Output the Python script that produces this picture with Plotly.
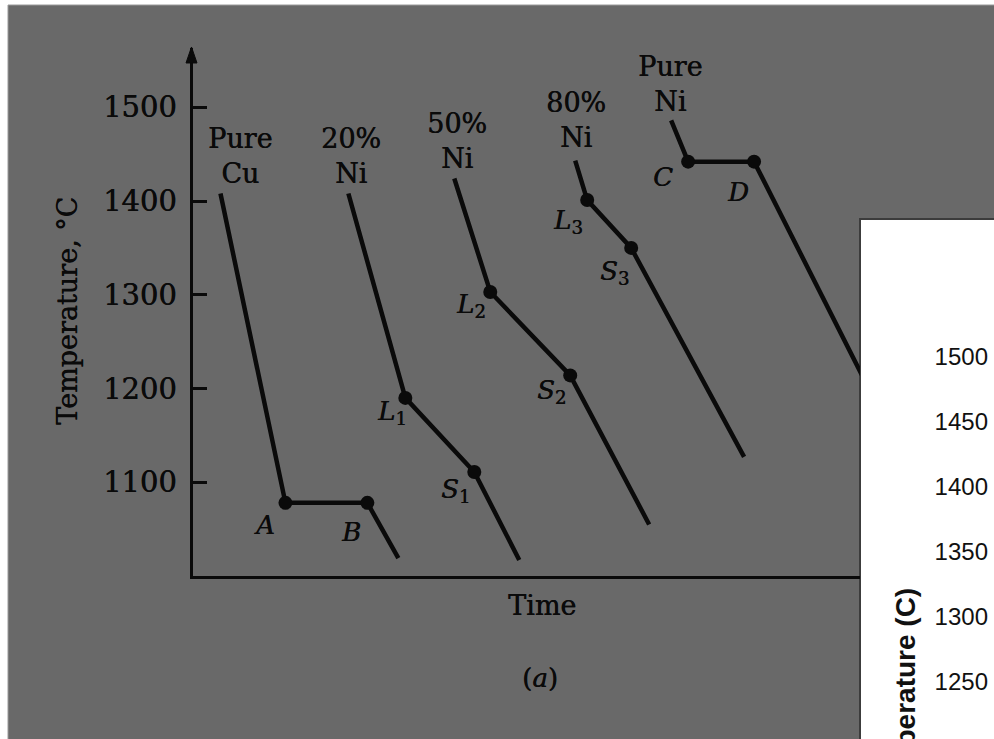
import plotly.graph_objects as go

# ---------------- data (time in arbitrary units, temperature in deg C) ----------------
curve_labels = ["Pure<br>Cu", "20%<br>Ni", "50%<br>Ni", "80%<br>Ni", "Pure<br>Ni"]

time_pure_cu = [2.8, 9.3, 17.5, 20.6]
temp_pure_cu = [1408, 1078, 1078, 1019]

time_ni20 = [15.6, 21.3, 28.2, 32.7]
temp_ni20 = [1408, 1190, 1111, 1017]

time_ni50 = [26.2, 29.8, 37.8, 45.7]
temp_ni50 = [1424, 1303, 1214, 1055]

time_ni80 = [38.3, 39.5, 43.9, 55.2]
temp_ni80 = [1443, 1401, 1350, 1127]

time_pure_ni = [47.9, 49.6, 56.2, 70.9]
temp_pure_ni = [1486, 1442, 1442, 1132]

point_names = [["A", "B"], ["L1", "S1"], ["L2", "S2"], ["L3", "S3"], ["C", "D"]]

main_ticks = [1100, 1200, 1300, 1400, 1500]
inset_ticks = [1250, 1300, 1350, 1400, 1450, 1500]

# ---------------- layout helpers ----------------
W, H = 994, 739
BG = "#696969"
INK = "#0a0a0a"
SERIF = "DejaVu Serif"
HEAVY = "0.5px 0px 0px #0a0a0a"

series = [
    (time_pure_cu, temp_pure_cu),
    (time_ni20, temp_ni20),
    (time_ni50, temp_ni50),
    (time_ni80, temp_ni80),
    (time_pure_ni, temp_pure_ni),
]

# pixel offsets of labels relative to their anchor points (x right, y up)
name_offsets = [[(-21, -22), (-16, -29)],
                [(-13, -15), (-19, -19)],
                [(-19, -14), (-19, -16)],
                [(-19, -21), (-17, -25)],
                [(-25, -15), (-16, -30)]]
curve_label_offsets = [(20, 38), (3, 38), (3, 38), (1, 41), (-1, 36)]

def px(x):
    return x / W

def py(y):
    return 1 - y / H

def serif(size):
    return dict(family=SERIF, size=size, color=INK, shadow=HEAVY)

fig = go.Figure()

for (tt, TT) in series:
    fig.add_trace(go.Scatter(x=tt, y=TT, mode="lines",
                             line=dict(color=INK, width=4.5),
                             showlegend=False, hoverinfo="skip"))
    fig.add_trace(go.Scatter(x=tt[1:3], y=TT[1:3], mode="markers",
                             marker=dict(color=INK, size=14),
                             showlegend=False, hoverinfo="skip"))

# empty trace so the inset subplot is created
fig.add_trace(go.Scatter(x=[None], y=[None], xaxis="x2", yaxis="y2",
                         showlegend=False, hoverinfo="skip"))

annotations = []
for i, (tt, TT) in enumerate(series):
    dx, dy = curve_label_offsets[i]
    annotations.append(dict(x=tt[0], y=TT[0], xref="x", yref="y",
                            text=curve_labels[i], showarrow=False,
                            xanchor="center", yanchor="middle",
                            xshift=dx, yshift=dy, align="center",
                            font=serif(27)))
    for j in range(2):
        name = point_names[i][j]
        txt = "<i>%s</i>" % name[0]
        if len(name) > 1:
            txt += "<sub>%s</sub>" % name[1:]
        ox, oy = name_offsets[i][j]
        annotations.append(dict(x=tt[1 + j], y=TT[1 + j], xref="x", yref="y",
                                text=txt, showarrow=False,
                                xanchor="center", yanchor="middle",
                                xshift=ox, yshift=oy,
                                font=serif(26)))

annotations += [
    dict(x=px(67), y=py(311), xref="paper", yref="paper",
         xanchor="center", yanchor="middle",
         text="Temperature, °C", textangle=-90, showarrow=False,
         font=serif(27)),
    dict(x=px(542), y=py(605), xref="paper", yref="paper",
         xanchor="center", yanchor="middle",
         text="Time", showarrow=False,
         font=serif(27)),
    dict(x=px(540), y=py(678), xref="paper", yref="paper",
         xanchor="center", yanchor="middle",
         text="(<i>a</i>)", showarrow=False,
         font=serif(26)),
    dict(x=px(905), y=py(586), xref="paper", yref="paper",
         xanchor="center", yanchor="top",
         text="<b>Temperature (C)</b>", textangle=-90, showarrow=False,
         font=dict(family="Liberation Sans", size=28, color="#111111")),
]

shapes = [
    # scanned page background
    dict(type="rect", xref="paper", yref="paper", x0=px(8), x1=1.01,
         y0=-0.01, y1=py(5), fillcolor=BG, line=dict(color="#9a9a9a", width=1),
         layer="below"),
    # white inset panel
    dict(type="rect", xref="paper", yref="paper", x0=px(860), x1=1.02,
         y0=-0.02, y1=py(219), fillcolor="white",
         line=dict(color="#3c3c3c", width=2), layer="below"),
    # arrow head on temperature axis
    dict(type="path", xref="paper", yref="paper",
         path="M %f,%f L %f,%f L %f,%f Z" % (px(186), py(63), px(191.5), py(47),
                                              px(197), py(63)),
         fillcolor=INK, line=dict(color=INK, width=1), layer="above"),
]

Y_LO, Y_HI = 1000, 1563.2

fig.update_layout(
    width=W, height=H,
    margin=dict(l=0, r=0, t=0, b=0),
    paper_bgcolor="white",
    plot_bgcolor="rgba(0,0,0,0)",
    showlegend=False,
    xaxis=dict(domain=[px(192.5), px(860)], range=[0, 66.8],
               showgrid=False, zeroline=False, showticklabels=False,
               ticks="", showline=True, linecolor=INK, linewidth=3,
               fixedrange=True),
    yaxis=dict(domain=[py(576), py(48)], range=[Y_LO, Y_HI],
               showgrid=False, zeroline=False, showline=True,
               linecolor=INK, linewidth=3,
               tickvals=main_ticks, ticktext=[str(v) for v in main_ticks],
               ticks="inside", ticklen=14, tickwidth=2.5, tickcolor=INK,
               ticklabelstandoff=7,
               tickfont=serif(29),
               fixedrange=True),
    xaxis2=dict(domain=[px(860), 1], anchor="y2", visible=False,
                range=[0, 1], fixedrange=True),
    yaxis2=dict(domain=[0, py(344)], anchor="free", position=1.0,
                side="left", range=[1206.2, 1510],
                showgrid=False, zeroline=False, showline=False,
                tickvals=inset_ticks, ticks="", ticklabelstandoff=6,
                tickfont=dict(family="Liberation Sans", size=24, color="#111111"),
                fixedrange=True),
    annotations=annotations,
    shapes=shapes,
)

fig.write_html(
    "out.html",
    config={"displayModeBar": False},
    post_script="document.body.style.margin='0';document.body.style.overflow='hidden';",
)
